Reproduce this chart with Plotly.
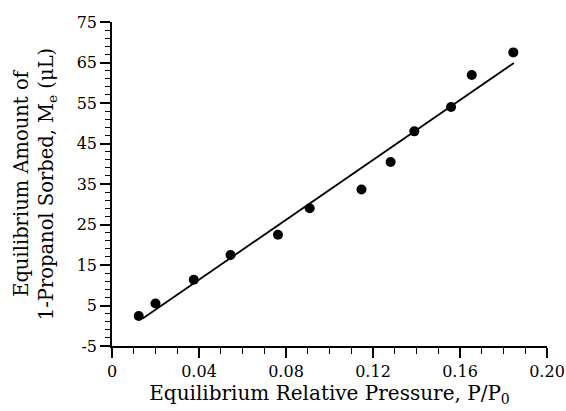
import plotly.graph_objects as go

# Measured data points
pressure = [0.0123, 0.0200, 0.0376, 0.0545, 0.0763, 0.0909, 0.1147, 0.1281, 0.1390, 0.1559, 0.1654, 0.1845]
amount = [2.4, 5.5, 11.35, 17.45, 22.45, 29.0, 33.65, 40.45, 48.0, 54.0, 61.9, 67.5]

# Fitted line endpoints
fit_x = [0.0141, 0.1848]
fit_y = [1.8, 64.9]

x_ticks = [0, 0.04, 0.08, 0.12, 0.16, 0.20]
x_tick_labels = ["0", "0.04", "0.08", "0.12", "0.16", "0.20"]
y_ticks = [-5, 5, 15, 25, 35, 45, 55, 65, 75]
y_tick_labels = ["-5", "5", "15", "25", "35", "45", "55", "65", "75"]

FONT = "DejaVu Serif"

fig = go.Figure()
fig.add_trace(go.Scatter(x=fit_x, y=fit_y, mode="lines",
                         line=dict(color="black", width=1.8), showlegend=False))
fig.add_trace(go.Scatter(x=pressure, y=amount, mode="markers",
                         marker=dict(color="black", size=10), showlegend=False))

fig.update_layout(
    width=566, height=411,
    margin=dict(l=112, r=19, t=22, b=65),
    paper_bgcolor="white", plot_bgcolor="white",
    font=dict(family=FONT, color="black", size=16),
    xaxis=dict(
        range=[0, 0.20], tickvals=x_ticks, ticktext=x_tick_labels,
        automargin=False,
        showgrid=False, zeroline=False, showline=True, linecolor="black", linewidth=1.5,
        ticks="outside", ticklen=10, tickwidth=1.5, tickcolor="black",
        minor=dict(dtick=0.01, ticks="outside", ticklen=6, tickwidth=1.2, tickcolor="black"),
        tickfont=dict(family=FONT, size=16),
        ticklabeloverflow="allow",
        title=dict(text="Equilibrium Relative Pressure, P/P<sub>0</sub>",
                   font=dict(family=FONT, size=20), standoff=5),
    ),
    yaxis=dict(
        range=[-5, 75], tickvals=y_ticks, ticktext=y_tick_labels,
        automargin=False,
        showgrid=False, zeroline=False, showline=True, linecolor="black", linewidth=1.5,
        ticks="outside", ticklen=10, tickwidth=1.5, tickcolor="black",
        minor=dict(dtick=2, tick0=-5, ticks="outside", ticklen=5, tickwidth=1.2, tickcolor="black"),
        tickfont=dict(family=FONT, size=16),
        title=dict(text="Equilibrium Amount of<br>1-Propanol Sorbed, M<sub>e</sub> (μL)",
                   font=dict(family=FONT, size=19.5), standoff=18),
    ),
)

# remove the default page margin so the figure sits at the window's corner
fig.write_html("out.html", config={"displayModeBar": False},
               post_script="document.body.style.margin='0';")
